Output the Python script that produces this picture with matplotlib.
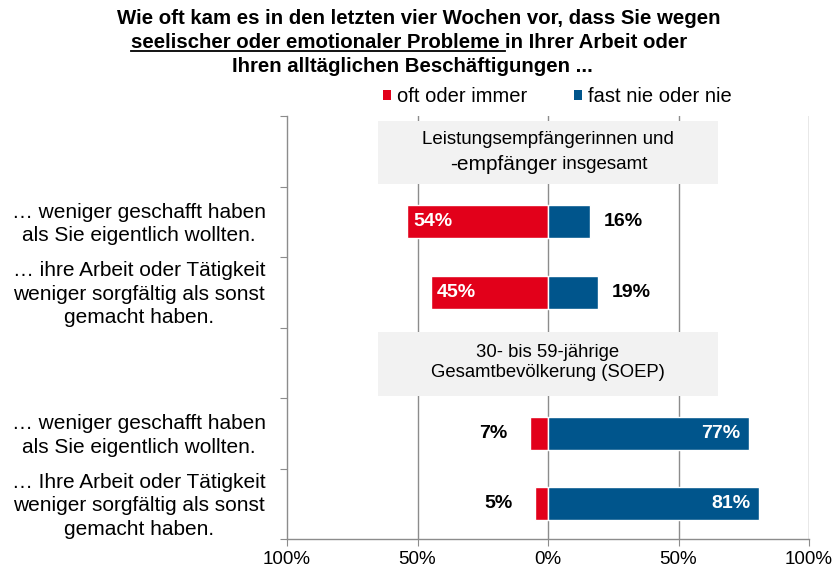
import matplotlib
matplotlib.use('Agg')
import matplotlib.pyplot as plt
import numpy as np
from matplotlib.patches import Rectangle, Patch
from matplotlib.lines import Line2D

plt.rcParams['font.family'] = ['Liberation Sans', 'DejaVu Sans']

# ---------------- data ----------------
categories = [
    "",
    "… weniger geschafft haben\nals Sie eigentlich wollten.",
    "… ihre Arbeit oder Tätigkeit\nweniger sorgfältig als sonst\ngemacht haben.",
    "",
    "… weniger geschafft haben\nals Sie eigentlich wollten.",
    "… Ihre Arbeit oder Tätigkeit\nweniger sorgfältig als sonst\ngemacht haben.",
]
oft_oder_immer = [np.nan, 54, 45, np.nan, 7, 5]
fast_nie_oder_nie = [np.nan, 16, 19, np.nan, 77, 81]
header_rows = [0, 3]
header_texts = [
    ("Leistungsempfängerinnen und", "-empfänger", " insgesamt"),
    ("30- bis 59-jährige", "Gesamtbevölkerung (SOEP)", ""),
]
legend_labels = ["oft oder immer", "fast nie oder nie"]
x_ticks = [-100, -50, 0, 50, 100]
x_tick_labels = ["100%", "50%", "0%", "50%", "100%"]
title_line1 = "Wie oft kam es in den letzten vier Wochen vor, dass Sie wegen"
title_line2_ul = "seelischer oder emotionaler Probleme "
title_line2_rest = "in Ihrer Arbeit oder"
title_line3 = "Ihren alltäglichen Beschäftigungen ..."

# ---------------- style ----------------
RED = '#E2001A'
BLUE = '#00558C'
GRID = '#8C8C8C'
BOXC = '#F2F2F2'
W, H = 840, 574

fig = plt.figure(figsize=(W / 100, H / 100), dpi=100)
ax = fig.add_axes([287 / W, 1 - 539 / H, (809 - 287) / W, (539 - 116) / H])

y = np.arange(len(categories))
oft = np.array(oft_oder_immer, dtype=float)
fast = np.array(fast_nie_oder_nie, dtype=float)

ax.barh(y, -oft, height=0.47, color=RED, edgecolor='white', linewidth=1.0, zorder=3)
ax.barh(y, fast, height=0.47, color=BLUE, edgecolor='white', linewidth=1.0, zorder=3)

ax.set_xlim(-100, 100)
ax.set_ylim(len(categories) - 0.5, -0.5)

# grid lines
for gx in x_ticks[1:]:
    ax.axvline(gx, color=GRID, lw=1.0, zorder=1)

# spines / ticks
for s in ['top', 'right']:
    ax.spines[s].set_visible(False)
for s in ['left', 'bottom']:
    ax.spines[s].set_color(GRID)
    ax.spines[s].set_linewidth(1.0)
ax.set_xticks(x_ticks)
ax.set_xticklabels(x_tick_labels, fontsize=13.5, color='black')
ax.tick_params(axis='x', length=5, color=GRID, pad=4)
ax.set_yticks(np.arange(-0.5, len(categories), 1.0))
ax.set_yticklabels([])
ax.tick_params(axis='y', length=5, color=GRID)

# category labels
ytr = ax.get_yaxis_transform()
for i, lab in enumerate(categories):
    if lab:
        ax.text(-0.2835, i + 0.03, lab, transform=ytr, ha='center', va='center',
                fontsize=15, linespacing=1.3, color='black')

# header boxes
for r, txt in zip(header_rows, header_texts):
    ax.add_patch(Rectangle((-65, r - 0.43), 130, 0.9, facecolor=BOXC,
                           edgecolor='none', zorder=2))
    if r == 0:
        ax.text(0, r - 0.16, txt[0], ha='center', va='center', fontsize=13.5, zorder=4)
        ax.text(3.5, r + 0.19, txt[1], ha='right', va='center', fontsize=15, zorder=4)
        ax.text(3.5, r + 0.19, txt[2], ha='left', va='center', fontsize=13.5, zorder=4)
    else:
        ax.text(0, r - 0.15, txt[0], ha='center', va='center', fontsize=13.3, zorder=4)
        ax.text(0, r + 0.14, txt[1], ha='center', va='center', fontsize=13.3, zorder=4)

# value labels
vfs = 14
for i in range(len(categories)):
    v = oft[i]
    if not np.isnan(v):
        if v >= 20:
            ax.text(-v + 2.5, i, f"{v:.0f}%", ha='left', va='center', color='white',
                    fontsize=vfs, fontweight='bold', zorder=5)
        else:
            ax.text(-v - 8.5, i, f"{v:.0f}%", ha='right', va='center', color='black',
                    fontsize=vfs, fontweight='bold', zorder=5)
    v = fast[i]
    if not np.isnan(v):
        if v >= 20:
            ax.text(v - 3.5, i, f"{v:.0f}%", ha='right', va='center', color='white',
                    fontsize=vfs, fontweight='bold', zorder=5)
        else:
            ax.text(v + 5.5, i, f"{v:.0f}%", ha='left', va='center', color='black',
                    fontsize=vfs, fontweight='bold', zorder=5)

# legend
handles = [Patch(facecolor=RED, edgecolor='none'), Patch(facecolor=BLUE, edgecolor='none')]
ax.legend(handles, legend_labels, loc='center', bbox_to_anchor=(0.518, 1 + 19 / 423),
          ncol=2, frameon=False, fontsize=14.5, handlelength=0.4, handleheight=0.4,
          handletextpad=0.3, columnspacing=2.3, borderpad=0, borderaxespad=0)

# title
tfs = 14.7
fig.text(419 / W, 1 - 18 / H, title_line1, ha='center', va='center', fontsize=tfs, fontweight='bold')
fig.text(412 / W, 1 - 67 / H, title_line3, ha='center', va='center', fontsize=tfs, fontweight='bold')
renderer = fig.canvas.get_renderer()
ta = fig.text(0, 1 - 43 / H, title_line2_ul, ha='left', va='center', fontsize=tfs, fontweight='bold')
tb = fig.text(0, 1 - 43 / H, title_line2_rest, ha='left', va='center', fontsize=tfs, fontweight='bold')
wa = ta.get_window_extent(renderer).width
wb = tb.get_window_extent(renderer).width
x0 = 409 - (wa + wb) / 2
ta.set_x(x0 / W)
tb.set_x((x0 + wa) / W)
yline = 1 - 51 / H
fig.add_artist(Line2D([x0 / W, (x0 + wa) / W], [yline, yline], color='black', lw=1.3))

fig.savefig('out.png', dpi=100)
